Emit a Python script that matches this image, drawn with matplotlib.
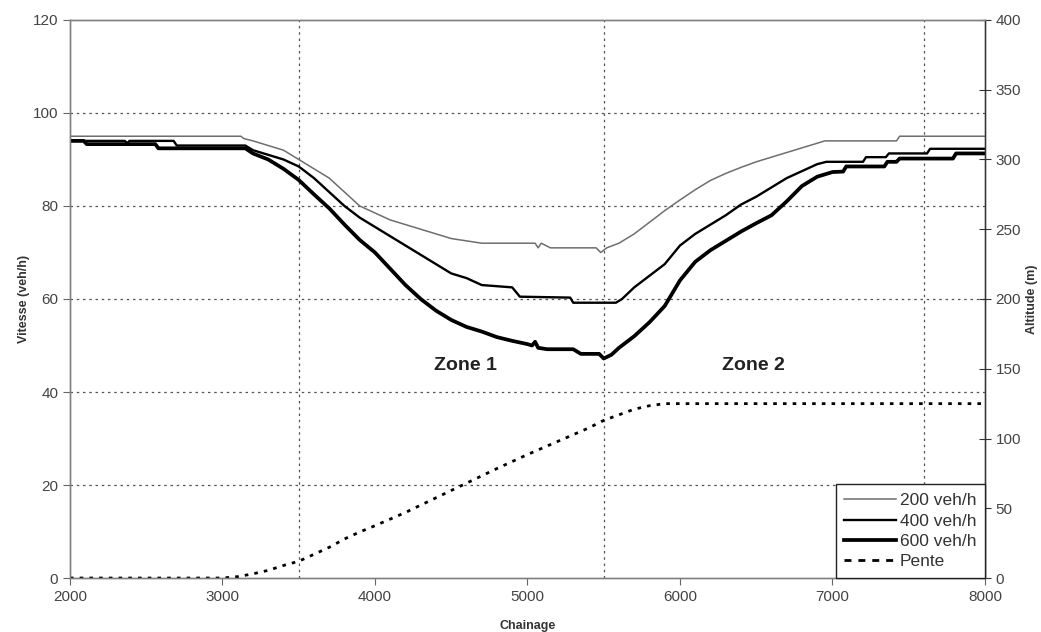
import matplotlib
matplotlib.use("Agg")
import matplotlib.pyplot as plt
from matplotlib.lines import Line2D

plt.rcParams['font.family'] = ['Liberation Sans', 'DejaVu Sans']

# speed profiles (km/h) against chainage (m)
x200 = [2000, 3120, 3140, 3200, 3300, 3400, 3500, 3600, 3700, 3800, 3900, 4000, 4100, 4200,
        4300, 4400, 4500, 4600, 4700, 5050, 5070, 5090, 5150, 5450, 5480, 5520, 5600, 5700,
        5800, 5900, 6000, 6100, 6200, 6300, 6400, 6500, 6600, 6700, 6800, 6900, 6950, 7420,
        7440, 8000]
v200 = [95, 95, 94.5, 94, 93, 92, 90, 88, 86, 83, 80, 78.5, 77, 76,
        75, 74, 73, 72.5, 72, 72, 71, 72, 71, 71, 70, 71, 72, 74,
        76.5, 79, 81.3, 83.5, 85.5, 87, 88.3, 89.5, 90.5, 91.5, 92.5, 93.5, 94, 94,
        95, 95]

x400 = [2000, 2360, 2375, 2390, 2680, 2700, 3150, 3200, 3300, 3400, 3500, 3600, 3700, 3800,
        3900, 4000, 4100, 4200, 4300, 4400, 4500, 4600, 4700, 4900, 4950, 5280, 5300, 5580,
        5620, 5700, 5800, 5900, 6000, 6100, 6200, 6300, 6400, 6500, 6600, 6700, 6800, 6900,
        6960, 7200, 7220, 7350, 7370, 7620, 7640, 8000]
v400 = [94, 94, 93.5, 94, 94, 93, 93, 92, 91, 90, 88.5, 86, 83, 80,
        77.5, 75.5, 73.5, 71.5, 69.5, 67.5, 65.5, 64.5, 63, 62.5, 60.5, 60.3, 59.2, 59.2,
        60, 62.5, 65, 67.5, 71.5, 74, 76, 78, 80.3, 82, 84, 86, 87.5, 89,
        89.5, 89.5, 90.5, 90.5, 91.3, 91.3, 92.3, 92.3]

x600 = [2000, 2090, 2110, 2560, 2580, 3150, 3200, 3300, 3400, 3500, 3600, 3700, 3800, 3900,
        4000, 4100, 4200, 4300, 4400, 4500, 4600, 4700, 4800, 4900, 5000, 5030, 5050, 5070,
        5130, 5300, 5350, 5470, 5500, 5550, 5600, 5700, 5800, 5900, 6000, 6100, 6200, 6300,
        6400, 6500, 6600, 6700, 6800, 6900, 7000, 7070, 7090, 7340, 7360, 7420, 7440, 7790,
        7810, 8000]
v600 = [94, 94, 93.3, 93.3, 92.4, 92.4, 91.3, 90, 88, 85.6, 82.5, 79.5, 76, 72.7,
        70, 66.5, 63, 60, 57.5, 55.5, 54, 53, 51.8, 51, 50.3, 50, 50.8, 49.5,
        49.2, 49.2, 48.2, 48.2, 47.2, 48, 49.5, 52, 55, 58.5, 64, 68, 70.5, 72.5,
        74.5, 76.3, 78, 81, 84.3, 86.3, 87.3, 87.4, 88.5, 88.5, 89.5, 89.5, 90.2, 90.2,
        91.3, 91.3]

# altitude profile (m)
x_alt = [2000, 3000, 3100, 3200, 3300, 3400, 3500, 3600, 3700, 3800, 3900, 4000, 4200, 4400,
         4600, 4800, 5000, 5200, 5400, 5500, 5600, 5700, 5800, 5900, 8000]
alt = [0, 0, 1, 3, 5.5, 9, 12, 17, 22, 28, 33, 37.5, 47, 57.5,
       68, 78.5, 88.5, 98, 107.5, 113, 117, 121, 123.5, 125, 125]

labels = ['200 veh/h', '400 veh/h', '600 veh/h', 'Pente']
zones = ['Zone 1', 'Zone 2']
zone_x = [4590, 6480]
zone_y = 45.6
vlines = [3500, 5500, 7600]

fig = plt.figure(figsize=(10.41, 6.32), dpi=100)
ax = fig.add_axes([0.0672, 0.0854, 0.879, 0.883])
ax2 = ax.twinx()

grid_kw = dict(color='#555555', lw=0.9, dashes=(2, 3), zorder=1)
for g in [20, 40, 60, 80, 100]:
    ax.axhline(g, **grid_kw)
for v in vlines:
    ax.axvline(v, **grid_kw)

l200, = ax.plot(x200, v200, color='#6e6e6e', lw=1.1, zorder=3)
l400, = ax.plot(x400, v400, color='black', lw=1.7, zorder=4)
l600, = ax.plot(x600, v600, color='black', lw=2.7, zorder=5)
lalt, = ax2.plot(x_alt, alt, color='black', lw=2.0, dashes=(1.3, 2.2))

for z, zx in zip(zones, zone_x):
    ax.text(zx, zone_y, z, ha='center', va='center', fontsize=14, fontweight='bold',
            color='#222222')

ax.set_xlim(2000, 8000)
ax.set_ylim(0, 120)
ax2.set_ylim(0, 400)
ax.set_xticks(range(2000, 8001, 1000))
ax.set_yticks(range(0, 121, 20))
ax2.set_yticks(range(0, 401, 50))

for a in (ax, ax2):
    for s in a.spines.values():
        s.set_color('#808080')
        s.set_linewidth(1.0)
ax2.spines['right'].set_color('#333333')

ax.tick_params(axis='both', labelsize=11, labelcolor='#444444', color='#666666',
               direction='out', length=5)
ax2.tick_params(axis='y', labelsize=11, labelcolor='#444444', color='#333333',
                direction='inout', length=8)

ax.set_ylabel('Vitesse (veh/h)', fontsize=9, fontweight='bold', color='#333333', labelpad=2)
ax2.set_ylabel('Altitude (m)', fontsize=9, fontweight='bold', color='#333333', labelpad=4)
ax.set_xlabel('Chainage', fontsize=9, fontweight='bold', color='#333333', labelpad=12)

# legend on the twin axis so it sits above every line
h_alt = Line2D([], [], color='black', lw=2.0, dashes=(2.5, 2.5))
leg = ax2.legend([l200, l400, l600, h_alt], labels, loc='lower right',
                 bbox_to_anchor=(1.0, 0.0), borderaxespad=0, fancybox=False,
                 framealpha=1, edgecolor='#222222', fontsize=12.5, handlelength=3.0,
                 handletextpad=0.2, labelspacing=0.3, borderpad=0.5)
leg.get_frame().set_linewidth(1.0)
for t in leg.get_texts():
    t.set_color('#333333')

plt.savefig('out.png', dpi=100)
